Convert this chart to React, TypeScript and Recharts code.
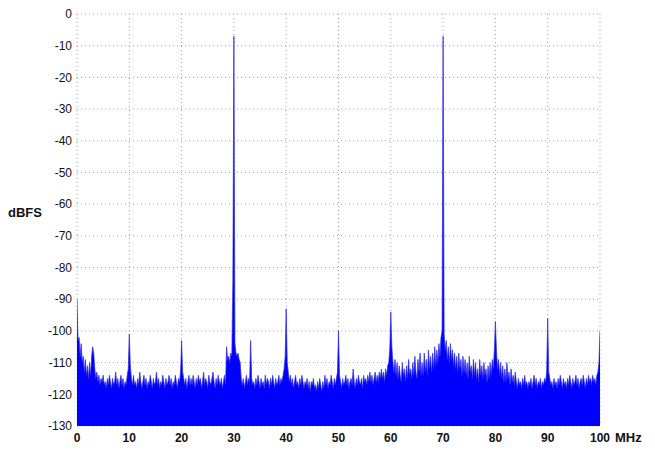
import React from 'react';
import { AreaChart, Area, XAxis, YAxis, CartesianGrid } from 'recharts';

// Spectrum values (dBFS), 0.2 MHz apart, one array per 10 MHz
const seg00 = [
  -90, -103, -102, -108, -104, -110, -108, -113, -109, -114,
  -111, -115, -110, -114, -108, -105, -107, -112, -115, -113,
  -116, -114, -117, -115, -116, -114, -117, -116, -118, -115,
  -117, -114, -116, -118, -115, -117, -116, -113, -117, -115,
  -118, -116, -114, -117, -115, -118, -116, -117, -114, -112,
];
const seg10 = [
  -101, -111, -115, -117, -114, -117, -116, -118, -115, -117,
  -113, -116, -118, -116, -114, -117, -115, -118, -116, -117,
  -114, -116, -118, -115, -117, -116, -113, -117, -115, -118,
  -116, -117, -114, -116, -118, -115, -117, -116, -114, -117,
  -115, -118, -116, -117, -114, -116, -118, -115, -116, -113,
];
const seg20 = [
  -103, -113, -115, -117, -115, -118, -116, -114, -117, -115,
  -117, -114, -116, -118, -115, -117, -114, -116, -115, -118,
  -116, -113, -117, -115, -116, -118, -114, -116, -117, -115,
  -113, -116, -118, -115, -117, -114, -116, -117, -115, -118,
  -116, -114, -117, -105, -109, -108, -110, -107, -108, -84,
];
const seg30 = [
  -7, -104, -107, -108, -107, -109, -110, -115, -117, -115,
  -118, -116, -114, -117, -115, -116, -103, -115, -117, -116,
  -118, -115, -117, -114, -116, -118, -115, -117, -116, -118,
  -114, -117, -115, -116, -118, -115, -117, -114, -116, -118,
  -115, -117, -116, -114, -117, -115, -116, -114, -112, -108,
];
const seg40 = [
  -93, -110, -113, -116, -114, -117, -115, -118, -116, -114,
  -117, -116, -118, -115, -117, -114, -116, -118, -116, -117,
  -115, -118, -116, -119, -116, -117, -115, -118, -117, -119,
  -116, -118, -115, -117, -119, -116, -118, -114, -117, -115,
  -118, -116, -117, -114, -116, -118, -115, -117, -115, -113,
];
const seg50 = [
  -100, -114, -116, -118, -115, -117, -116, -114, -117, -115,
  -118, -116, -115, -117, -112, -116, -118, -115, -117, -114,
  -116, -117, -115, -118, -114, -116, -115, -117, -114, -116,
  -113, -116, -114, -117, -115, -113, -116, -114, -116, -113,
  -115, -112, -115, -113, -116, -112, -114, -111, -110, -106,
];
const seg60 = [
  -94, -105, -110, -113, -109, -114, -110, -115, -111, -114,
  -116, -110, -114, -112, -116, -111, -115, -109, -114, -112,
  -115, -110, -114, -108, -113, -115, -109, -113, -107, -114,
  -110, -114, -107, -113, -109, -114, -106, -112, -108, -113,
  -107, -112, -105, -111, -106, -110, -104, -108, -102, -100,
];
const seg70 = [
  -7, -101, -106, -103, -109, -105, -110, -104, -109, -106,
  -111, -107, -112, -108, -113, -107, -112, -109, -114, -108,
  -113, -109, -114, -110, -115, -108, -113, -111, -115, -109,
  -114, -110, -115, -112, -116, -109, -114, -111, -115, -110,
  -114, -112, -116, -111, -115, -110, -114, -109, -112, -106,
];
const seg80 = [
  -97, -106, -112, -109, -114, -110, -115, -111, -116, -112,
  -116, -110, -115, -113, -117, -112, -116, -114, -117, -113,
  -116, -118, -115, -117, -116, -118, -115, -117, -114, -117,
  -116, -118, -116, -117, -115, -118, -116, -114, -117, -115,
  -118, -116, -117, -115, -118, -116, -117, -115, -116, -113,
];
const seg90 = [
  -96, -113, -115, -117, -116, -118, -115, -117, -116, -118,
  -115, -117, -114, -116, -118, -115, -117, -116, -118, -115,
  -117, -114, -116, -118, -115, -117, -116, -114, -117, -115,
  -118, -116, -115, -117, -114, -116, -118, -115, -117, -114,
  -116, -115, -117, -114, -116, -115, -117, -114, -113, -110,
];
const seg100 = [-100];

const xTicks = [0, 10, 20, 30, 40, 50, 60, 70, 80, 90, 100];
const yTicks = [0, -10, -20, -30, -40, -50, -60, -70, -80, -90, -100, -110, -120, -130];

const allValues = [seg00, seg10, seg20, seg30, seg40, seg50, seg60, seg70, seg80, seg90, seg100].flat();
const data = allValues.map((v, k) => ({ f: Math.round(k * 2) / 10, dbfs: v }));

const FONT = '"Liberation Sans", Arial, Helvetica, sans-serif';
const FRAME = '#555555';

export default function App() {
  return (
    <div
      style={{
        position: 'absolute',
        left: 0,
        top: 0,
        width: 655,
        height: 451,
        background: '#ffffff',
        fontFamily: FONT,
      }}
    >
      <AreaChart
        width={655}
        height={451}
        data={data}
        margin={{ top: 14, right: 55, bottom: 0, left: 0 }}
      >
        <CartesianGrid
          xAxisId="x"
          yAxisId="y"
          stroke="#a0a0a0"
          strokeDasharray="1 3"
        />
        <XAxis
          xAxisId="x"
          dataKey="f"
          type="number"
          domain={[0, 100]}
          ticks={xTicks}
          interval={0}
          allowDataOverflow
          height={25}
          axisLine={false}
          tickLine={false}
          tickSize={0}
          tickMargin={7}
          tick={{ fontSize: 12, fontWeight: 'bold', fill: '#111', fontFamily: FONT }}
        />
        <YAxis
          yAxisId="y"
          type="number"
          domain={[-130, 0]}
          ticks={yTicks}
          interval={0}
          allowDataOverflow
          width={77}
          axisLine={false}
          tickLine={false}
          tickSize={0}
          tickMargin={5}
          tick={{ fontSize: 12, fill: '#111', fontFamily: FONT }}
        />
        <XAxis
          xAxisId="xb"
          type="number"
          domain={[0, 100]}
          ticks={xTicks}
          interval={0}
          allowDataOverflow
          orientation="bottom"
          mirror
          height={0}
          tick={false}
          tickSize={4}
          tickLine={{ stroke: FRAME }}
          axisLine={{ stroke: FRAME }}
        />
        <XAxis
          xAxisId="xt"
          type="number"
          domain={[0, 100]}
          ticks={xTicks}
          interval={0}
          allowDataOverflow
          orientation="top"
          mirror
          height={0}
          tick={false}
          tickSize={4}
          tickLine={{ stroke: FRAME }}
          axisLine={{ stroke: FRAME }}
        />
        <YAxis
          yAxisId="yl"
          type="number"
          domain={[-130, 0]}
          ticks={yTicks}
          interval={0}
          allowDataOverflow
          orientation="left"
          mirror
          width={0}
          tick={false}
          tickSize={4}
          tickLine={{ stroke: FRAME }}
          axisLine={{ stroke: FRAME }}
        />
        <YAxis
          yAxisId="yr"
          type="number"
          domain={[-130, 0]}
          ticks={yTicks}
          interval={0}
          allowDataOverflow
          orientation="right"
          mirror
          width={0}
          tick={false}
          tickSize={4}
          tickLine={{ stroke: FRAME }}
          axisLine={{ stroke: FRAME }}
        />
        <Area
          xAxisId="x"
          yAxisId="y"
          dataKey="dbfs"
          type="linear"
          baseValue={-130}
          stroke="#2a2ae8"
          strokeWidth={0.7}
          fill="#0000ff"
          fillOpacity={1}
          dot={false}
          activeDot={false}
          isAnimationActive={false}
        />
      </AreaChart>
      <div
        style={{
          position: 'absolute',
          left: 8,
          top: 205,
          fontSize: 13,
          fontWeight: 'bold',
          color: '#111',
          lineHeight: '16px',
        }}
      >
        dBFS
      </div>
      <div
        style={{
          position: 'absolute',
          left: 615,
          top: 430,
          fontSize: 13,
          fontWeight: 'bold',
          color: '#111',
          lineHeight: '16px',
        }}
      >
        MHz
      </div>
    </div>
  );
}
